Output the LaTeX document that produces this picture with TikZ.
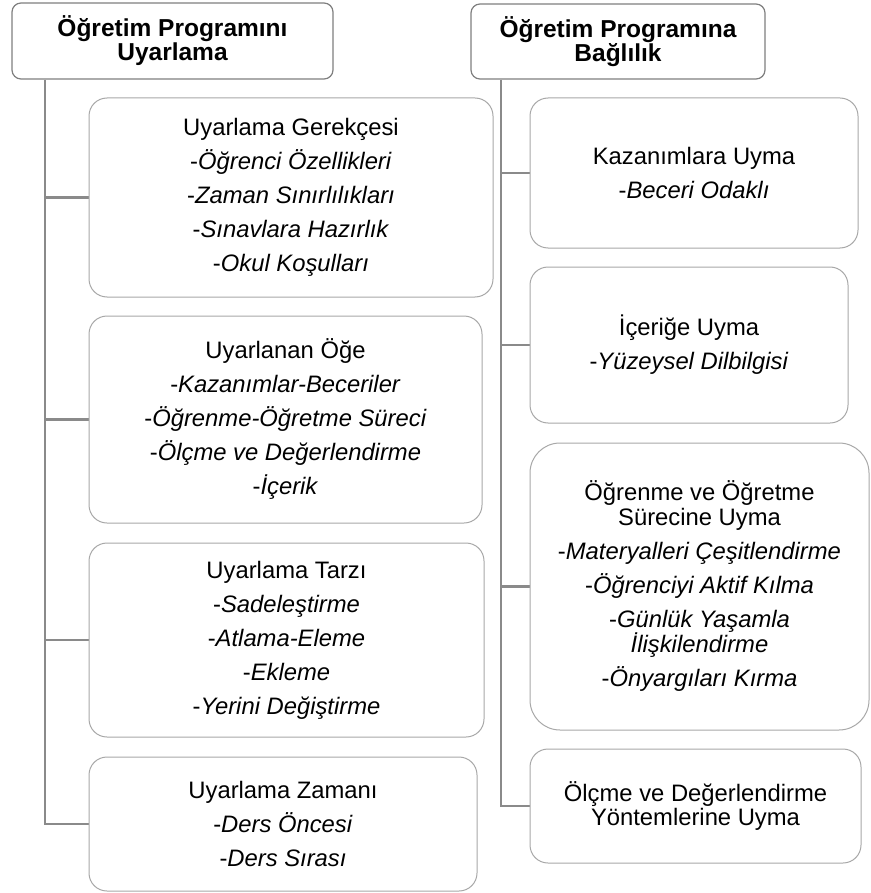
\documentclass[tikz,border=0pt]{standalone}
\usepackage{fontspec}
\setmainfont{Liberation Sans}
\usetikzlibrary{backgrounds}
\definecolor{conngray}{HTML}{8A8A8A}
\definecolor{boxgray}{HTML}{A8A8A8}
\definecolor{headgray}{HTML}{7F7F7F}
\begin{document}
\begin{tikzpicture}[x=1pt,y=-1pt,
  conn/.style={draw=conngray, line width=2.6pt},
  header/.style={draw=headgray, line width=1.2pt, rounded corners=9pt, fill=white,
    align=center, inner sep=0pt, font=\fontsize{24.5}{22.5}\selectfont\bfseries},
  item/.style={draw=boxgray, line width=1pt, rounded corners=18pt, fill=white,
    align=center, inner sep=0pt, font=\fontsize{23.8}{34}\selectfont}]
\useasboundingbox (0,0) rectangle (870,893);

% column headers
\node[header, minimum width=321pt, minimum height=76pt] (lh) at (172.5,41)
  {Öğretim Programını\\Uyarlama};
\node[header, minimum width=294pt, minimum height=75pt] (rh) at (618,41.5)
  {Öğretim Programına\\Bağlılık};

% left column
\node[item, minimum width=404pt, minimum height=199pt] (l1) at (291,197.5)
  {Uyarlama Gerekçesi\\-\textit{Öğrenci Özellikleri}\\-\textit{Zaman Sınırlılıkları}\\-\textit{Sınavlara Hazırlık}\\-\textit{Okul Koşulları}};
\node[item, minimum width=393pt, minimum height=207pt] (l2) at (285.5,419.5)
  {Uyarlanan Öğe\\-\textit{Kazanımlar-Beceriler}\\-\textit{Öğrenme-Öğretme Süreci}\\-\textit{Ölçme ve Değerlendirme}\\-\textit{İçerik}};
\node[item, minimum width=395pt, minimum height=194pt] (l3) at (286.5,640)
  {Uyarlama Tarzı\\-\textit{Sadeleştirme}\\-\textit{Atlama-Eleme}\\-\textit{Ekleme}\\-\textit{Yerini Değiştirme}};
\node[item, minimum width=388pt, minimum height=134pt] (l4) at (283,824)
  {Uyarlama Zamanı\\-\textit{Ders Öncesi}\\-\textit{Ders Sırası}};

% right column
\node[item, minimum width=328pt, minimum height=150pt] (r1) at (694,173)
  {Kazanımlara Uyma\\-\textit{Beceri Odaklı}};
\node[item, minimum width=318pt, minimum height=156pt] (r2) at (689,345)
  {İçeriğe Uyma\\-\textit{Yüzeysel Dilbilgisi}};
\node[item, rounded corners=30pt, minimum width=339pt, minimum height=287pt] (r3) at (699.5,586.5)
  {Öğrenme ve Öğretme\\[-9pt]Sürecine Uyma\\-\textit{Materyalleri Çeşitlendirme}\\-\textit{Öğrenciyi Aktif Kılma}\\-\textit{Günlük Yaşamla}\\[-9pt]\textit{İlişkilendirme}\\-\textit{Önyargıları Kırma}};
\node[item, minimum width=331pt, minimum height=114pt] (r4) at (695.5,806)
  {Ölçme ve Değerlendirme\\[-10pt]Yöntemlerine Uyma};

% spines
\coordinate (lspine) at (45,0);
\coordinate (rspine) at (501,0);

\begin{scope}[on background layer]
  \draw[conn] (lh.south -| lspine) |- (l4.west);
  \foreach \n in {l1,l2,l3} \draw[conn] (\n.west -| lspine) -- (\n.west);
  \draw[conn] (rh.south -| rspine) |- (r4.west);
  \foreach \n in {r1,r2,r3} \draw[conn] (\n.west -| rspine) -- (\n.west);
\end{scope}
\end{tikzpicture}
\end{document}
